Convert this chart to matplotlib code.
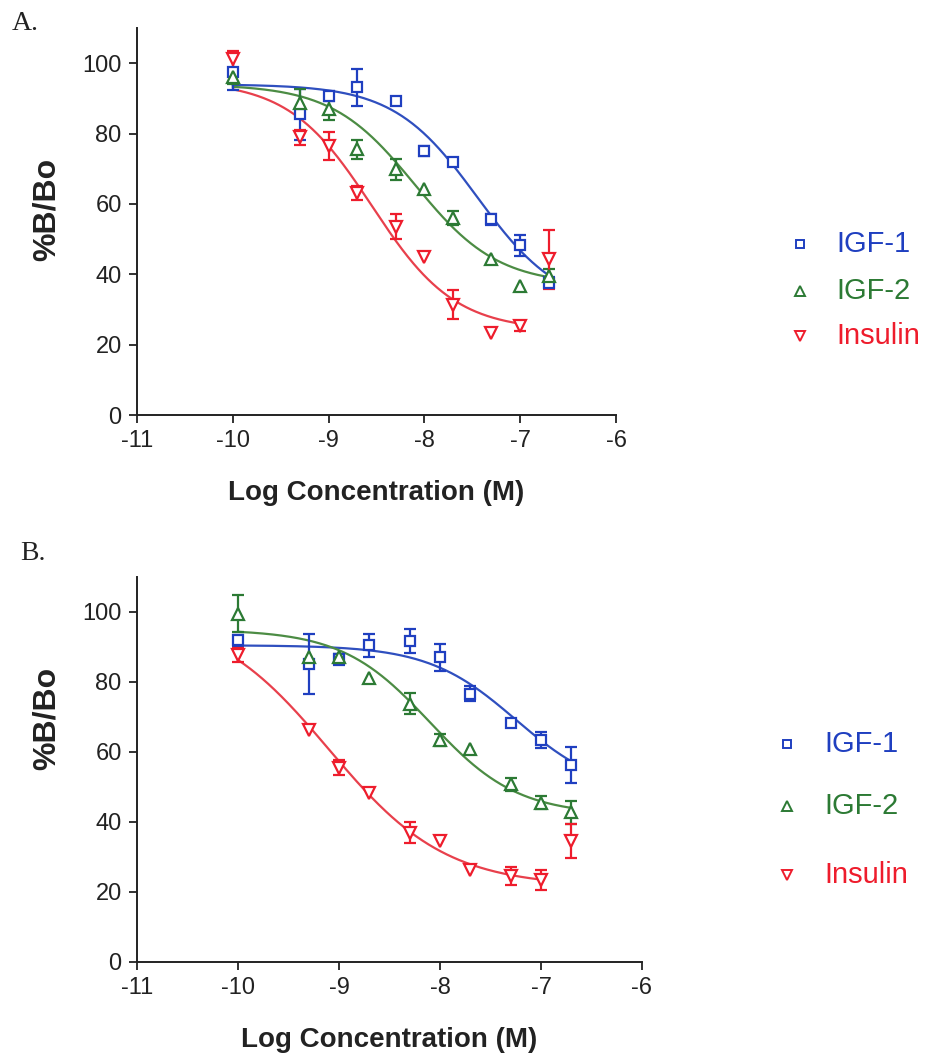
import numpy as np
import matplotlib
matplotlib.use("Agg")
import matplotlib.pyplot as plt

plt.rcParams['font.family'] = ['Liberation Sans', 'DejaVu Sans']

log_conc = [-10, -9.3, -9, -8.7, -8.3, -8, -7.7, -7.3, -7, -6.7]
series = ["IGF-1", "IGF-2", "Insulin"]

# Panel A
a_igf1 = [97.5, 85.5, 90.7, 93.1, 89.3, 75.1, 71.9, 55.6, 48.3, 37.6]
a_igf1_err = [5, 7.3, 1.5, 5.2, 0, 1.5, 0, 1.5, 3, 1.5]
a_igf2 = [96, 88.8, 86.9, 75.5, 69.8, 64.2, 55.9, 44.2, 36.8, 39.5]
a_igf2_err = [2, 4, 3, 2.6, 3, 0, 2, 0, 0, 2]
a_ins = [101.1, 78.9, 76.5, 63, 53.5, 45, 31.4, 23.4, 25.3, 44.2]
a_ins_err = [2.5, 2.2, 4, 2, 3.6, 0, 4, 0, 1.5, 8.5]
# 4PL fit parameters: top, bottom, logEC50, hill, curve end
a_fit = {"IGF-1": (94, 30, -7.45, 1.0, -6.7),
         "IGF-2": (94, 37, -8.1, 1.0, -6.7),
         "Insulin": (95, 24, -8.55, 1.0, -7.0)}

# Panel B
b_igf1 = [91.9, 85.2, 86.5, 90.5, 91.7, 87.1, 76.7, 68.4, 63.4, 56.3]
b_igf1_err = [1.5, 8.5, 1.5, 3.3, 3.5, 3.9, 2.2, 0, 2.2, 5.2]
b_igf2 = [99.5, 87.1, 87.1, 81.2, 73.8, 63.5, 61, 50.8, 45.5, 42.8]
b_igf2_err = [5.3, 0, 1, 0, 3, 1.7, 0, 1.8, 1.8, 3.3]
b_ins = [87.6, 66.2, 55.5, 48.4, 37, 34.6, 26.2, 24.5, 23.4, 34.6]
b_ins_err = [2, 0, 2.1, 0, 3, 0, 0, 2.6, 2.9, 4.9]
b_fit = {"IGF-1": (90.5, 48, -7.25, 1.0, -6.7),
         "IGF-2": (95, 42, -8.1, 1.0, -6.7),
         "Insulin": (100, 21.5, -9.1, 0.75, -7.0)}

colors = {"IGF-1": "#1f3fc0", "IGF-2": "#2c7a34", "Insulin": "#ee1c2c"}
line_colors = {"IGF-1": "#2f4fbf", "IGF-2": "#4c8c44", "Insulin": "#e8404c"}
markers = {"IGF-1": "s", "IGF-2": "^", "Insulin": "v"}
msizes = {"IGF-1": 6.5, "IGF-2": 8, "Insulin": 8}

def fourpl(x, top, bottom, ec, h):
    return bottom + (top - bottom) / (1 + 10 ** ((x - ec) * h))

W, H = 934, 1060
fig = plt.figure(figsize=(W / 100, H / 100), dpi=100)

def make_axes(l, r, b, t):
    return fig.add_axes([l / W, 1 - b / H, (r - l) / W, (b - t) / H])

panels = [
    dict(box=(137, 616, 415, 28), data={"IGF-1": (a_igf1, a_igf1_err),
                                        "IGF-2": (a_igf2, a_igf2_err),
                                        "Insulin": (a_ins, a_ins_err)},
         fit=a_fit, label="A.", label_xy=(12, 24),
         leg_x=(800, 836), leg_y=[244, 291, 336], ylab_y=209),
    dict(box=(137, 642, 962, 577), data={"IGF-1": (b_igf1, b_igf1_err),
                                         "IGF-2": (b_igf2, b_igf2_err),
                                         "Insulin": (b_ins, b_ins_err)},
         fit=b_fit, label="B.", label_xy=(20, 553),
         leg_x=(787, 824), leg_y=[744, 806, 875], ylab_y=718),
]

for p in panels:
    l, r, b, t = p["box"]
    ax = make_axes(l, r, b, t)
    for s in series:
        vals, errs = p["data"][s]
        x = np.array(log_conc)
        v = np.array(vals)
        e = np.array(errs)
        top, bot, ec, h, xend = p["fit"][s]
        xx = np.linspace(-10, xend, 300)
        ax.plot(xx, fourpl(xx, top, bot, ec, h), color=line_colors[s], lw=1.6, zorder=2)
        m = e > 0
        ax.errorbar(x[m], v[m], yerr=e[m], fmt="none", ecolor=colors[s],
                    elinewidth=1.6, capsize=4.5, capthick=1.6, zorder=3)
        ax.plot(x, v, linestyle="none", marker=markers[s], ms=msizes[s],
                mfc="white", mec=colors[s], mew=1.6, zorder=4)
    ax.set_xlim(-11, -6)
    ax.set_ylim(0, 110)
    ax.set_xticks([-11, -10, -9, -8, -7, -6])
    ax.set_xticklabels(["-11", "-10", "-9", "-8", "-7", "-6"])
    ax.set_yticks([0, 20, 40, 60, 80, 100])
    for sp in ["top", "right"]:
        ax.spines[sp].set_visible(False)
    for sp in ["left", "bottom"]:
        ax.spines[sp].set_linewidth(1.4)
        ax.spines[sp].set_color("#222222")
    ax.tick_params(axis="both", direction="out", length=6, width=1.3,
                   labelsize=17, colors="#222222", pad=5)
    ax.set_xlabel("Log Concentration (M)", fontsize=20, fontweight="bold",
                  color="#222222", labelpad=20)
    # y label
    fig.text(47 / W, 1 - p["ylab_y"] / H, "%B/Bo", rotation=90, fontsize=23,
             fontweight="bold", color="#222222", ha="center", va="center")
    # panel label
    fig.text(p["label_xy"][0] / W, 1 - p["label_xy"][1] / H, p["label"],
             fontsize=20, family="Liberation Serif", ha="left", va="center",
             color="#222222")
    # legend
    mx, tx = p["leg_x"]
    for s, yy in zip(series, p["leg_y"]):
        fig.lines.append(matplotlib.lines.Line2D([mx / W], [1 - yy / H],
                         marker=markers[s], ms=msizes[s] - 1, mfc="white",
                         mec=colors[s], mew=1.4, linestyle="none",
                         transform=fig.transFigure))
        fig.text(tx / W, 1 - yy / H, s, fontsize=21, color=colors[s],
                 ha="left", va="center")

fig.savefig("out.png", dpi=100, facecolor="white")
